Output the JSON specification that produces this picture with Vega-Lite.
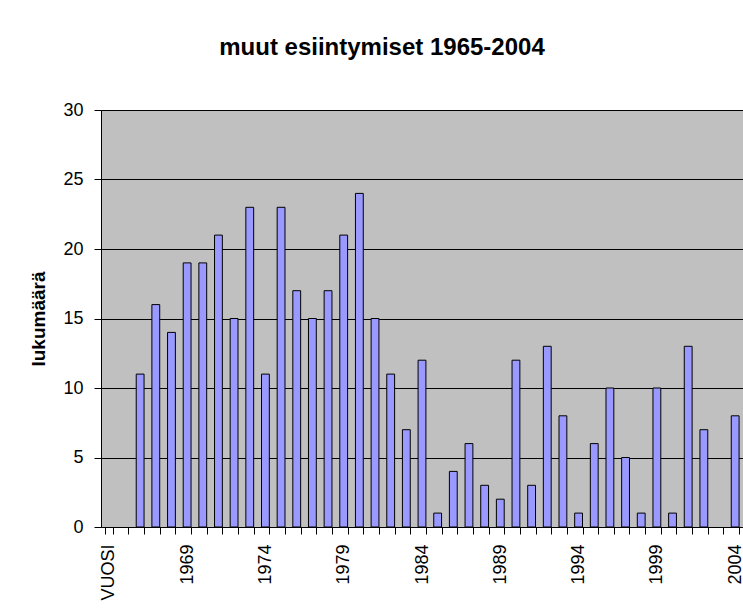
{
  "$schema": "https://vega.github.io/schema/vega-lite/v6.json",
  "autosize": "none",
  "width": 642,
  "height": 417,
  "padding": {"left": 101, "top": 110, "right": 0, "bottom": 85},
  "background": "white",
  "title": {
    "text": "muut esiintymiset 1965-2004",
    "font": "Liberation Sans",
    "fontSize": 24,
    "fontWeight": "bold",
    "color": "black",
    "anchor": "middle",
    "dx": -40,
    "baseline": "alphabetic",
    "offset": 22
  },
  "config": {
    "view": {"fill": "#C0C0C0", "stroke": "#808080", "strokeWidth": 1},
    "axis": {"labelFont": "Liberation Sans", "titleFont": "Liberation Sans", "labelColor": "black", "titleColor": "black"}
  },
  "data": {
    "values": [
      {"year": "1966", "count": 11},
      {"year": "1967", "count": 16},
      {"year": "1968", "count": 14},
      {"year": "1969", "count": 19},
      {"year": "1970", "count": 19},
      {"year": "1971", "count": 21},
      {"year": "1972", "count": 15},
      {"year": "1973", "count": 23},
      {"year": "1974", "count": 11},
      {"year": "1975", "count": 23},
      {"year": "1976", "count": 17},
      {"year": "1977", "count": 15},
      {"year": "1978", "count": 17},
      {"year": "1979", "count": 21},
      {"year": "1980", "count": 24},
      {"year": "1981", "count": 15},
      {"year": "1982", "count": 11},
      {"year": "1983", "count": 7},
      {"year": "1984", "count": 12},
      {"year": "1985", "count": 1},
      {"year": "1986", "count": 4},
      {"year": "1987", "count": 6},
      {"year": "1988", "count": 3},
      {"year": "1989", "count": 2},
      {"year": "1990", "count": 12},
      {"year": "1991", "count": 3},
      {"year": "1992", "count": 13},
      {"year": "1993", "count": 8},
      {"year": "1994", "count": 1},
      {"year": "1995", "count": 6},
      {"year": "1996", "count": 10},
      {"year": "1997", "count": 5},
      {"year": "1998", "count": 1},
      {"year": "1999", "count": 10},
      {"year": "2000", "count": 1},
      {"year": "2001", "count": 13},
      {"year": "2002", "count": 7},
      {"year": "2004", "count": 8}
    ]
  },
  "mark": {"type": "bar", "fill": "#9999FF", "stroke": "black", "strokeWidth": 1},
  "encoding": {
    "x": {
      "field": "year",
      "type": "nominal",
      "sort": null,
      "scale": {
        "domain": ["VUOSI","1965","1966","1967","1968","1969","1970","1971","1972","1973","1974","1975","1976","1977","1978","1979","1980","1981","1982","1983","1984","1985","1986","1987","1988","1989","1990","1991","1992","1993","1994","1995","1996","1997","1998","1999","2000","2001","2002","2003","2004"],
        "paddingInner": 0.5,
        "paddingOuter": 0.25
      },
      "axis": {
        "title": null,
        "labelAngle": 270,
        "labelFontSize": 18,
        "labelPadding": 10,
        "labelOverlap": false,
        "labelExpr": "indexof(['VUOSI','1969','1974','1979','1984','1989','1994','1999','2004'], datum.value) >= 0 ? datum.value : ''",
        "tickBand": "extent",
        "tickSize": 7,
        "tickColor": "black",
        "domainColor": "black",
        "grid": false
      }
    },
    "y": {
      "field": "count",
      "type": "quantitative",
      "scale": {"domain": [0, 30], "nice": false},
      "axis": {
        "title": "lukumäärä",
        "titleFontSize": 19,
        "titleFontWeight": "bold",
        "titlePadding": 14,
        "values": [0, 5, 10, 15, 20, 25, 30],
        "labelFontSize": 18,
        "labelPadding": 11,
        "tickSize": 7,
        "tickColor": "black",
        "domainColor": "black",
        "grid": true,
        "gridColor": "black",
        "gridOpacity": 1,
        "gridWidth": 1
      }
    }
  }
}
